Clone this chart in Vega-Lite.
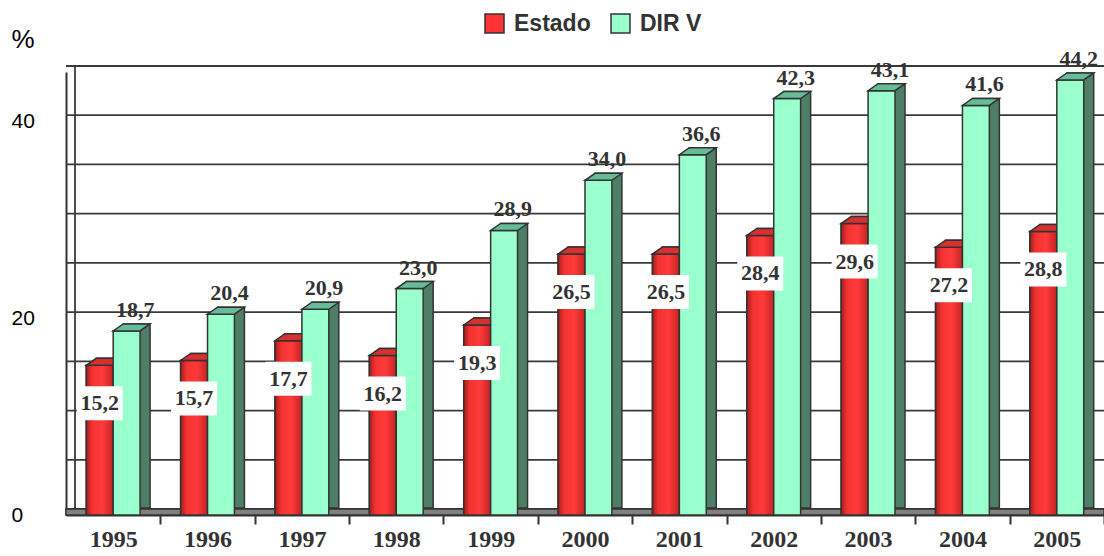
{
  "$schema": "https://vega.github.io/schema/vega-lite/v6.json",
  "width": 1038,
  "height": 443,
  "autosize": {"type": "none"},
  "padding": {"left": 66, "top": 72, "right": 0, "bottom": 41},
  "background": "white",
  "datasets": {
    "main": [
      {"year": "1995", "series": "Estado", "value": 15.2, "label": "15,2"},
      {"year": "1996", "series": "Estado", "value": 15.7, "label": "15,7"},
      {"year": "1997", "series": "Estado", "value": 17.7, "label": "17,7"},
      {"year": "1998", "series": "Estado", "value": 16.2, "label": "16,2"},
      {"year": "1999", "series": "Estado", "value": 19.3, "label": "19,3"},
      {"year": "2000", "series": "Estado", "value": 26.5, "label": "26,5"},
      {"year": "2001", "series": "Estado", "value": 26.5, "label": "26,5"},
      {"year": "2002", "series": "Estado", "value": 28.4, "label": "28,4"},
      {"year": "2003", "series": "Estado", "value": 29.6, "label": "29,6"},
      {"year": "2004", "series": "Estado", "value": 27.2, "label": "27,2"},
      {"year": "2005", "series": "Estado", "value": 28.8, "label": "28,8"},
      {"year": "1995", "series": "DIR V", "value": 18.7, "label": "18,7"},
      {"year": "1996", "series": "DIR V", "value": 20.4, "label": "20,4"},
      {"year": "1997", "series": "DIR V", "value": 20.9, "label": "20,9"},
      {"year": "1998", "series": "DIR V", "value": 23.0, "label": "23,0"},
      {"year": "1999", "series": "DIR V", "value": 28.9, "label": "28,9"},
      {"year": "2000", "series": "DIR V", "value": 34.0, "label": "34,0"},
      {"year": "2001", "series": "DIR V", "value": 36.6, "label": "36,6"},
      {"year": "2002", "series": "DIR V", "value": 42.3, "label": "42,3"},
      {"year": "2003", "series": "DIR V", "value": 43.1, "label": "43,1"},
      {"year": "2004", "series": "DIR V", "value": 41.6, "label": "41,6"},
      {"year": "2005", "series": "DIR V", "value": 44.2, "label": "44,2"}
    ],
    "grid": [{"v": 0}, {"v": 5}, {"v": 10}, {"v": 15}, {"v": 20}, {"v": 25}, {"v": 30}, {"v": 35}, {"v": 40}, {"v": 45}],
    "one": [{"k": 1}]
  },
  "data": {"name": "main"},
  "config": {
    "view": {"stroke": null},
    "legend": {
      "orient": "none",
      "legendX": 417,
      "legendY": -60,
      "direction": "horizontal",
      "padding": 0,
      "symbolType": "square",
      "symbolSize": 361,
      "symbolStrokeColor": "#333333",
      "symbolStrokeWidth": 1.5,
      "symbolOpacity": 1,
      "labelFont": "Liberation Sans",
      "labelFontWeight": "bold",
      "labelFontSize": 23,
      "labelColor": "#333333",
      "labelOffset": 8,
      "columnPadding": 17,
      "labelLimit": 300
    }
  },
  "layer": [
    {
      "data": {"name": "grid"},
      "mark": {"type": "rule", "color": "#3a3a3a", "strokeWidth": 1.8, "xOffset": 9, "yOffset": -6},
      "encoding": {
        "y": {
          "field": "v", "type": "quantitative",
          "scale": {"domain": [0, 45], "nice": false, "zero": true},
          "axis": {
            "values": [0, 20, 40],
            "grid": false, "ticks": false, "tickSize": 0,
            "domain": true, "domainColor": "#333333", "domainWidth": 2,
            "labelAlign": "left", "labelPadding": 55, "labelBaseline": "middle",
            "labelFont": "Liberation Sans", "labelFontSize": 21, "labelColor": "#000000",
            "title": "%", "titleAngle": 0, "titleAlign": "left", "titleBaseline": "alphabetic",
            "titleX": -55, "titleY": -25,
            "titleFont": "Liberation Sans", "titleFontSize": 26, "titleFontWeight": "normal", "titleColor": "#000000"
          }
        }
      }
    },
    {
      "data": {"name": "one"},
      "mark": {"type": "rule", "color": "#3a3a3a", "strokeWidth": 1.8, "xOffset": 9, "yOffset": -6, "y2Offset": -6},
      "encoding": {
        "x": {"value": 0},
        "y": {"datum": 0, "type": "quantitative"},
        "y2": {"datum": 45}
      }
    },
    {
      "data": {"name": "one"},
      "mark": {"type": "rect", "fill": "#808080", "stroke": "#333333", "strokeWidth": 1.5, "y2Offset": -6},
      "encoding": {
        "y": {"datum": 0, "type": "quantitative"},
        "y2": {"datum": 0}
      }
    },
    {
      "transform": [{"filter": "datum.series === 'Estado'"}],
      "mark": {"type": "bar", "width": 26.9, "fill": "#7a1a1a", "stroke": "#333333", "strokeWidth": 1.5, "xOffset": -3.45, "yOffset": -7, "y2Offset": -7},
      "encoding": {
        "x": {"field": "year", "type": "nominal", "scale": {"paddingInner": 0.43, "paddingOuter": 0.215}},
        "y": {"field": "value", "type": "quantitative"}
      }
    },
    {
      "transform": [{"filter": "datum.series === 'Estado'"}],
      "mark": {"type": "bar", "width": 26.9, "stroke": "#333333", "strokeWidth": 1.5, "opacity": 1, "xOffset": -13.45},
      "encoding": {
        "x": {
          "field": "year", "type": "nominal",
          "axis": {
            "title": null, "labelAngle": 0, "labelAlign": "center",
            "labelFont": "Liberation Serif", "labelFontWeight": "bold", "labelFontSize": 24, "labelColor": "#333333",
            "labelPadding": 3, "labelBaseline": "top",
            "ticks": true, "tickSize": 9, "tickColor": "#333333", "tickWidth": 2,
            "tickOffset": 47.18, "labelOffset": -47.18,
            "domain": true, "domainColor": "#333333", "domainWidth": 2
          }
        },
        "y": {"field": "value", "type": "quantitative"},
        "color": {
          "field": "series", "type": "nominal",
          "scale": {"domain": ["Estado", "DIR V"], "range": ["#ff3333", "#99ffcc"]},
          "legend": {"title": null}
        }
      }
    },
    {
      "transform": [{"filter": "datum.series === 'Estado'"}],
      "mark": {
        "type": "bar", "width": 26.9, "stroke": "#333333", "strokeWidth": 1.5, "xOffset": -13.45,
        "fill": {
          "gradient": "linear", "x1": 0, "x2": 1, "y1": 0, "y2": 0,
          "stops": [
            {"offset": 0, "color": "#a81c1c"},
            {"offset": 0.22, "color": "#f23232"},
            {"offset": 0.6, "color": "#ff3a3a"},
            {"offset": 1, "color": "#c42424"}
          ]
        }
      },
      "encoding": {
        "x": {"field": "year", "type": "nominal"},
        "y": {"field": "value", "type": "quantitative"}
      }
    },
    {
      "transform": [{"filter": "datum.series === 'Estado'"}],
      "mark": {"type": "point", "shape": "M-13.45,0L13.45,0L23.45,-7L-3.45,-7Z", "size": 4, "filled": true, "fill": "#d63030", "stroke": "#333333", "strokeWidth": 1.5, "opacity": 1, "xOffset": -13.45},
      "encoding": {
        "x": {"field": "year", "type": "nominal"},
        "y": {"field": "value", "type": "quantitative"}
      }
    },
    {
      "transform": [{"filter": "datum.series === 'DIR V'"}],
      "mark": {"type": "bar", "width": 26.9, "fill": "#4e7f66", "stroke": "#333333", "strokeWidth": 1.5, "xOffset": 23.45, "yOffset": -7, "y2Offset": -7},
      "encoding": {
        "x": {"field": "year", "type": "nominal"},
        "y": {"field": "value", "type": "quantitative"}
      }
    },
    {
      "transform": [{"filter": "datum.series === 'DIR V'"}],
      "mark": {"type": "bar", "width": 26.9, "stroke": "#333333", "strokeWidth": 1.5, "opacity": 1, "xOffset": 13.45},
      "encoding": {
        "x": {"field": "year", "type": "nominal"},
        "y": {"field": "value", "type": "quantitative"},
        "color": {"field": "series", "type": "nominal", "legend": {"title": null}}
      }
    },
    {
      "transform": [{"filter": "datum.series === 'DIR V'"}],
      "mark": {"type": "point", "shape": "M-13.45,0L13.45,0L23.45,-7L-3.45,-7Z", "size": 4, "filled": true, "fill": "#66bb99", "stroke": "#333333", "strokeWidth": 1.5, "opacity": 1, "xOffset": 13.45},
      "encoding": {
        "x": {"field": "year", "type": "nominal"},
        "y": {"field": "value", "type": "quantitative"}
      }
    },
    {
      "transform": [{"filter": "datum.series === 'DIR V'"}],
      "mark": {"type": "text", "font": "Liberation Serif", "fontWeight": "bold", "fontSize": 22, "color": "#333333", "baseline": "alphabetic", "align": "center", "dx": 22, "dy": -14},
      "encoding": {
        "x": {"field": "year", "type": "nominal"},
        "y": {"field": "value", "type": "quantitative"},
        "text": {"field": "label"}
      }
    },
    {
      "transform": [{"filter": "datum.series === 'Estado'"}],
      "mark": {"type": "point", "shape": "M-23,-17L23,-17L23,17L-23,17Z", "size": 4, "filled": true, "fill": "#ffffff", "strokeWidth": 0, "opacity": 1, "xOffset": -13.45, "yOffset": 38},
      "encoding": {
        "x": {"field": "year", "type": "nominal"},
        "y": {"field": "value", "type": "quantitative"}
      }
    },
    {
      "transform": [{"filter": "datum.series === 'Estado'"}],
      "mark": {"type": "text", "font": "Liberation Serif", "fontWeight": "bold", "fontSize": 22, "color": "#333333", "baseline": "middle", "align": "center", "dx": -13.45, "dy": 38},
      "encoding": {
        "x": {"field": "year", "type": "nominal"},
        "y": {"field": "value", "type": "quantitative"},
        "text": {"field": "label"}
      }
    }
  ]
}
